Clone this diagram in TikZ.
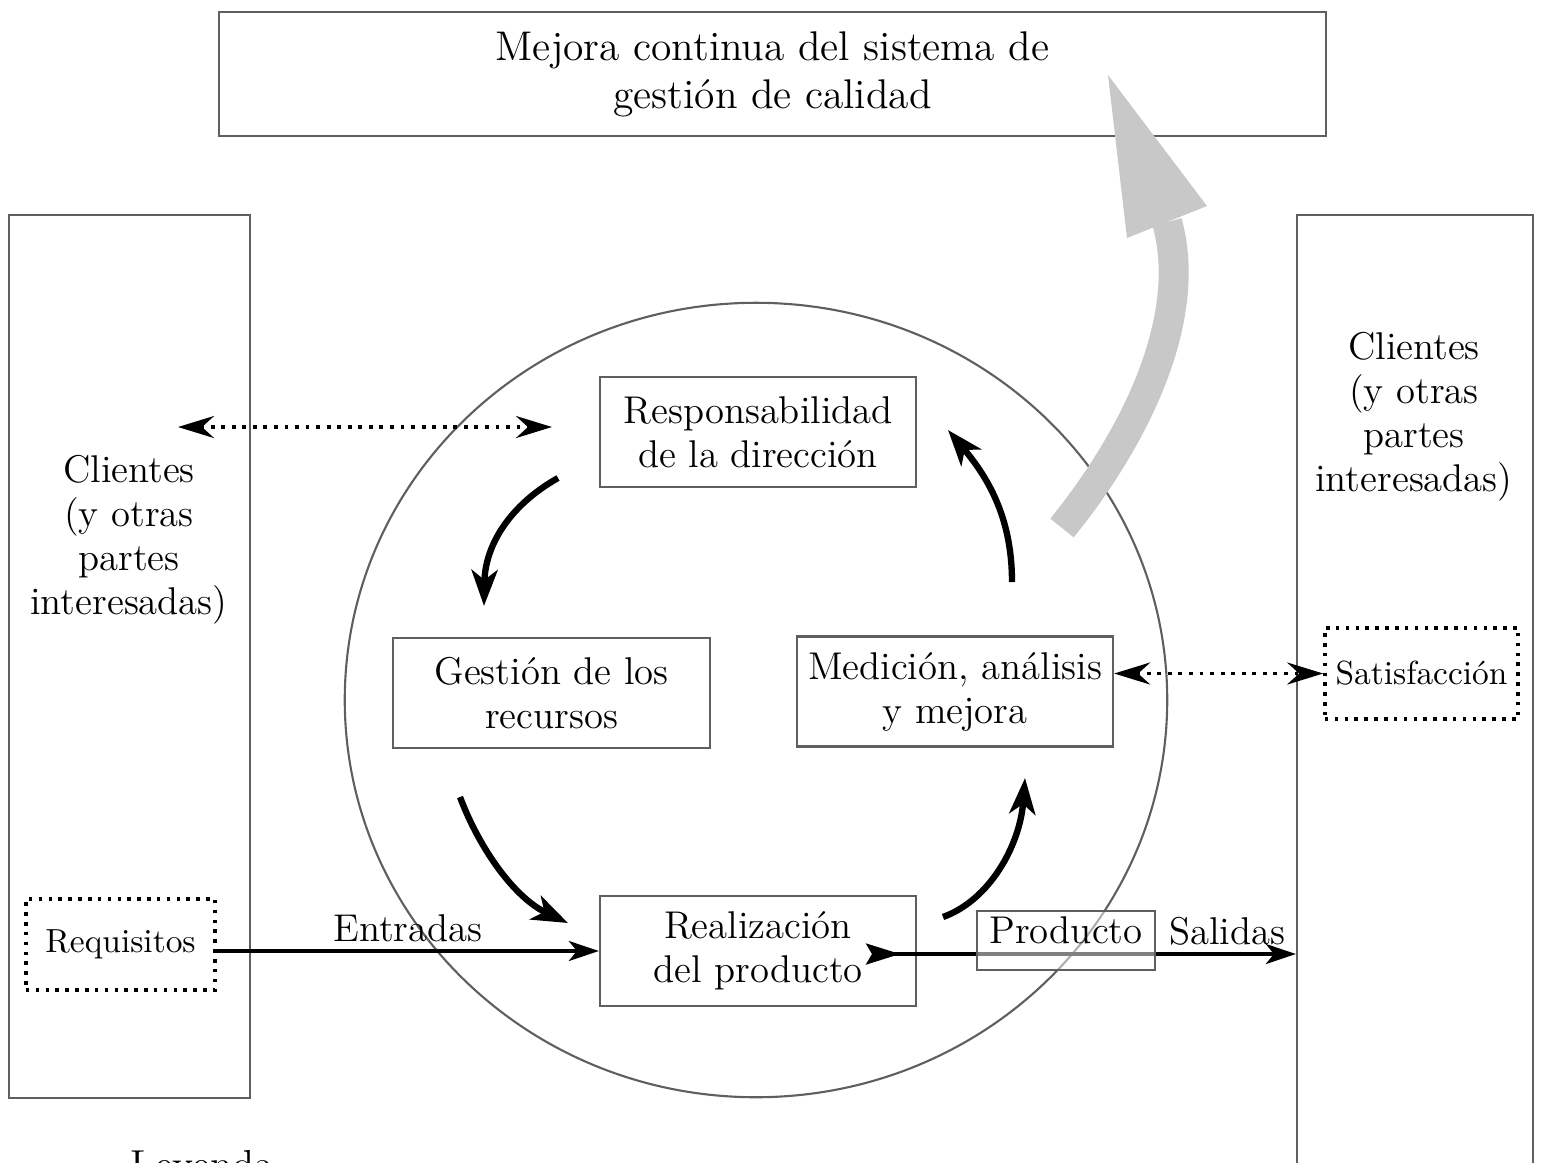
\documentclass[tikz,border=0pt]{standalone}
\usepackage{tikz}
\usetikzlibrary{arrows.meta,positioning}

\definecolor{borde}{RGB}{95,95,95}
\definecolor{flecha}{RGB}{200,200,200}

\begin{document}
\begin{tikzpicture}[x=0.01cm, y=-0.01cm,
    every node/.style={font=\fontsize{11}{12.5}\selectfont},
    caja/.style={draw=borde, line width=0.6pt, minimum width=3.16cm, minimum height=1.1cm, inner sep=0pt, align=center},
    lado/.style={draw=borde, line width=0.6pt, inner sep=0pt},
    punteada/.style={draw, line width=1pt, dash pattern=on 1pt off 1.8pt, minimum width=1.9cm, minimum height=0.91cm, inner sep=0pt, font=\fontsize{9.5}{11}\selectfont},
    ciclo/.style={line width=1.8pt, -{Stealth[length=3.6mm, width=2.6mm, inset=1mm]}},
    puntos/.style={line width=1.1pt, dash pattern=on 1.1pt off 1.9pt, {Stealth[length=3.6mm, width=2.2mm, inset=1.2mm]}-{Stealth[length=3.6mm, width=2.2mm, inset=1.2mm]}},
    linea/.style={line width=1pt, -{Stealth[length=3mm, width=2mm, inset=0.8mm]}}]
  \useasboundingbox (0,0) rectangle (1541,1162);
  \node[caja, minimum width=11.07cm, minimum height=1.24cm, font=\fontsize{11.8}{13.6}\selectfont] (mejora) at (772.5,74) {Mejora continua del sistema de\\gestión de calidad};
  \node[lado, minimum width=2.41cm, minimum height=8.83cm] (cliI) at (129.5,656.5) {};
  \node[lado, minimum width=2.36cm, minimum height=9.9cm] (cliD) at (1415,710) {};
  \node[align=center] (cliItxt) at (129,540) {Clientes\\(y otras\\partes\\interesadas)};
  \node[align=center] (cliDtxt) at (1414,417) {Clientes\\(y otras\\partes\\interesadas)};
  \draw[borde, line width=0.6pt] (756,700) ellipse [x radius=4.11cm, y radius=3.97cm];
  \node[caja] (resp) at (758,432) {Responsabilidad\\de la dirección};
  \node[caja] (recur) at (551.5,693) {Gestión de los\\recursos};
  \node[caja] (medic) at (955,691.5) {Medición, análisis\\y mejora};
  \node[caja] (real) at (758,951) {Realización\\del producto};
  \node[punteada, minimum width=1.89cm] (req) at (120.5,944.5) {Requisitos};
  \node[punteada, minimum width=1.93cm] (satis) at (1421.5,673.5) {Satisfacción};
  \coordinate (dirI) at (178,427);
  \coordinate (dirD) at (552,427);
  \draw[puntos] (dirI) -- (dirD);
  \draw[puntos] (satis.west -| medic.east) -- (satis.west);
  \draw[linea] (req.east |- real.west) -- (real.west) node[midway, above, inner sep=2pt] {Entradas};
  \coordinate (cola) at (866,954);
  \draw[line width=1pt, {Stealth[reversed, length=3.4mm, width=2.1mm, inset=0.6mm]}-{Stealth[length=3mm, width=2mm, inset=0.8mm]}] (cola) -- (cola -| cliD.west) node[pos=0.84, above, inner sep=2pt] {Salidas};
  \node[draw=borde, line width=0.6pt, fill=white, fill opacity=0.5, text opacity=1, minimum width=1.78cm, minimum height=0.59cm, text height=0.25cm, text depth=0.2cm, inner sep=0pt] (prod) at (1066,940.5) {Producto};
  \coordinate (ra) at (558,478); \coordinate (rb) at (484,606);
  \draw[ciclo] (ra) .. controls (510,505) and (485,545) .. (rb);
  \coordinate (ga) at (460,797); \coordinate (gb) at (568,923);
  \draw[ciclo] (ga) .. controls (480,850) and (515,898) .. (gb);
  \coordinate (pa) at (943,917); \coordinate (pb) at (1025,778);
  \draw[ciclo] (pa) .. controls (990,900) and (1020,845) .. (pb);
  \coordinate (ma) at (1012,582); \coordinate (mb) at (948,430);
  \draw[ciclo] (ma) .. controls (1012,520) and (990,480) .. (mb);
  \draw[flecha, line width=0.3cm] (1062,528) .. controls (1145,425) and (1192,310) .. (1167,222);
  \fill[flecha] (1127,238) -- (1108,75) -- (1207,206) -- cycle;
  \node[anchor=base west, font=\fontsize{11.5}{13}\selectfont] (leyenda) at (118,1178) {Leyenda};
\end{tikzpicture}
\end{document}
